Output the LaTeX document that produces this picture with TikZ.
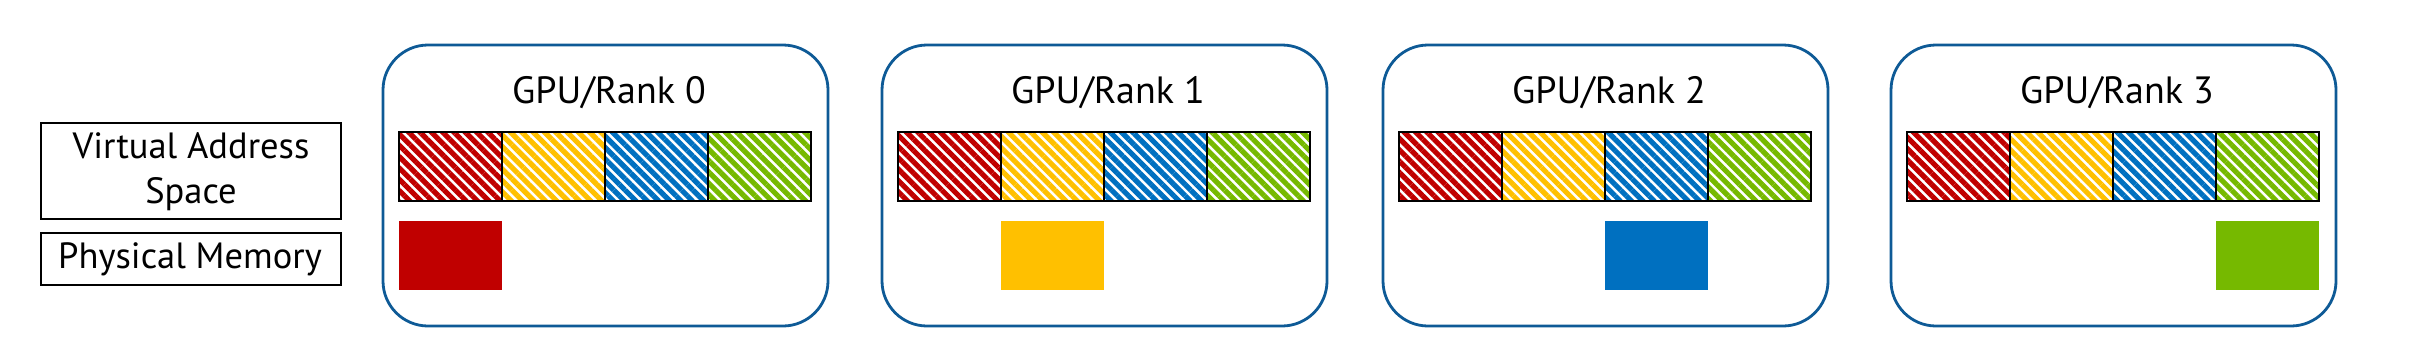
\documentclass[tikz,border=0pt]{standalone}
\usepackage{fontspec}
\setmainfont{PT Sans}
\usetikzlibrary{patterns.meta}
\definecolor{cred}{HTML}{C00000}
\definecolor{cyel}{HTML}{FFC000}
\definecolor{cblu}{HTML}{0070C0}
\definecolor{cgrn}{HTML}{76B900}
\definecolor{cbord}{HTML}{0E5A96}
\begin{document}
\begin{tikzpicture}[x=1pt,y=-1pt,
  gpubox/.style={draw=cbord, line width=2.8pt, rounded corners=45pt, minimum width=445pt, minimum height=281pt, inner sep=0pt, outer sep=0pt, anchor=north west},
  seg/.style={draw=black, line width=2pt, minimum width=103pt, minimum height=69pt, inner sep=0pt, outer sep=0pt, anchor=north west, pattern color=#1, pattern={Lines[angle=-45,distance=8pt,line width=5.2pt]}},
  phys/.style={fill=#1, minimum width=103pt, minimum height=69pt, inner sep=0pt, outer sep=0pt, anchor=north west},
  titletxt/.style={anchor=base, inner sep=0pt, font=\fontsize{38pt}{44pt}\selectfont},
  lbltxt/.style={anchor=base, inner sep=0pt, font=\fontsize{36.5pt}{40pt}\selectfont},
  lblbox/.style={draw=black, line width=1.3pt, inner sep=0pt, outer sep=0pt, minimum width=300pt, anchor=north west}
]
\useasboundingbox (0,0) rectangle (2427,357);
% left labels
\node[lblbox, minimum height=96pt] (vas) at (41,123) {};
\node[lbltxt] (vast1) at (191,158) {Virtual Address};
\node[lbltxt] (vast2) at (191,203) {Space};
\node[lblbox, minimum height=52pt] (pm) at (41,233) {};
\node[lbltxt] (pmt) at (190,268) {Physical Memory};
% GPU boxes
\foreach \k/\L/\c in {0/383/cred,1/882/cyel,2/1383/cblu,3/1891/cgrn} {
  \node[gpubox] (gpu\k) at (\L,45) {};
  \node[titletxt] (title\k) at (\L+226,103) {GPU/Rank \k};
  \foreach \j/\s in {0/cred,1/cyel,2/cblu,3/cgrn} {
    \node[seg=\s] (seg\k\j) at (\L+16+\j*103,132) {};
  }
  \node[phys=\c] (phys\k) at (\L+16+\k*103,221) {};
}
\end{tikzpicture}
\end{document}
